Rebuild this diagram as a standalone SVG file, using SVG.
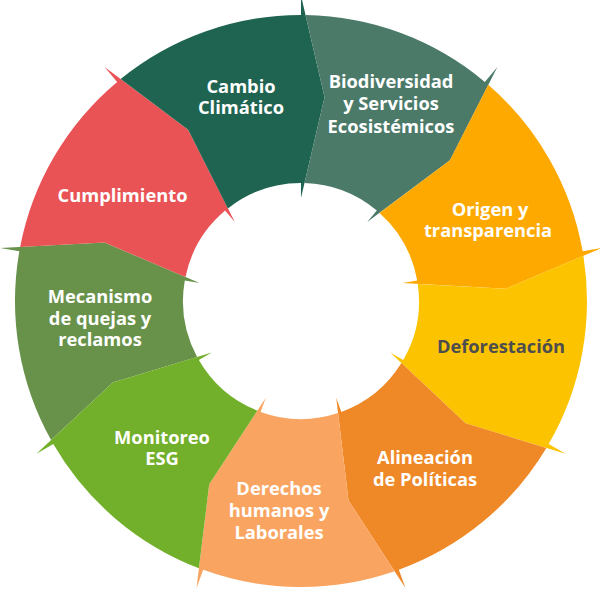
<svg xmlns="http://www.w3.org/2000/svg" width="600" height="593" viewBox="0 0 600 593">
<style>
text { font-family: "Open Sans", "Liberation Sans", sans-serif; font-weight: 700; font-size: 18.3px; fill: #ffffff; text-anchor: middle; }
text.dark { fill: #4d4d4f; }
</style>
<defs>
<path id="seg" d="M 285.964 4.522 A 286 286 0 0 1 219.089 183.837 L 234.026 196.372 L 140.853 148.948 L 78.903 66.207 L 90.393 75.849 A 118 118 0 0 0 117.948 3.5 L 203.64 23.563 Z"/>
</defs>
<g id="mecanismo">
<use href="#seg" transform="translate(301 301) rotate(150)" fill="#68924a"/>
<text x="100" y="303">Mecanismo</text>
<text x="100" y="324.5">de quejas y</text>
<text x="100" y="346">reclamos</text>
</g>
<g id="cumplimiento">
<use href="#seg" transform="translate(301 301) rotate(190)" fill="#e95356"/>
<text x="122.5" y="202">Cumplimiento</text>
</g>
<g id="cambio">
<use href="#seg" transform="translate(301 301) rotate(230)" fill="#1e6450"/>
<text x="241" y="92.5">Cambio</text>
<text x="241" y="114">Climático</text>
</g>
<g id="biodiversidad">
<use href="#seg" transform="translate(301 301) rotate(270)" fill="#4b7a69"/>
<text x="391" y="87.5">Biodiversidad</text>
<text x="391" y="110">y Servicios</text>
<text x="391" y="132.5">Ecosistémicos</text>
</g>
<g id="origen">
<use href="#seg" transform="translate(301 301) rotate(310)" fill="#fda900"/>
<text x="490" y="216">Origen y</text>
<text x="488" y="237">transparencia</text>
</g>
<g id="deforestacion">
<use href="#seg" transform="translate(301 301) rotate(350)" fill="#fcc400"/>
<text class="dark" x="501" y="353">Deforestación</text>
</g>
<g id="alineacion">
<use href="#seg" transform="translate(301 301) rotate(30)" fill="#ef8826"/>
<text x="425" y="463.5">Alineación</text>
<text x="425" y="485.5">de Políticas</text>
</g>
<g id="derechos">
<use href="#seg" transform="translate(301 301) rotate(70)" fill="#f9a561"/>
<text x="279" y="495">Derechos</text>
<text x="279" y="517">humanos y</text>
<text x="279" y="539">Laborales</text>
</g>
<g id="monitoreo">
<use href="#seg" transform="translate(301 301) rotate(110)" fill="#72af2a"/>
<text x="162" y="443.5">Monitoreo</text>
<text x="162" y="464.5">ESG</text>
</g>
</svg>
